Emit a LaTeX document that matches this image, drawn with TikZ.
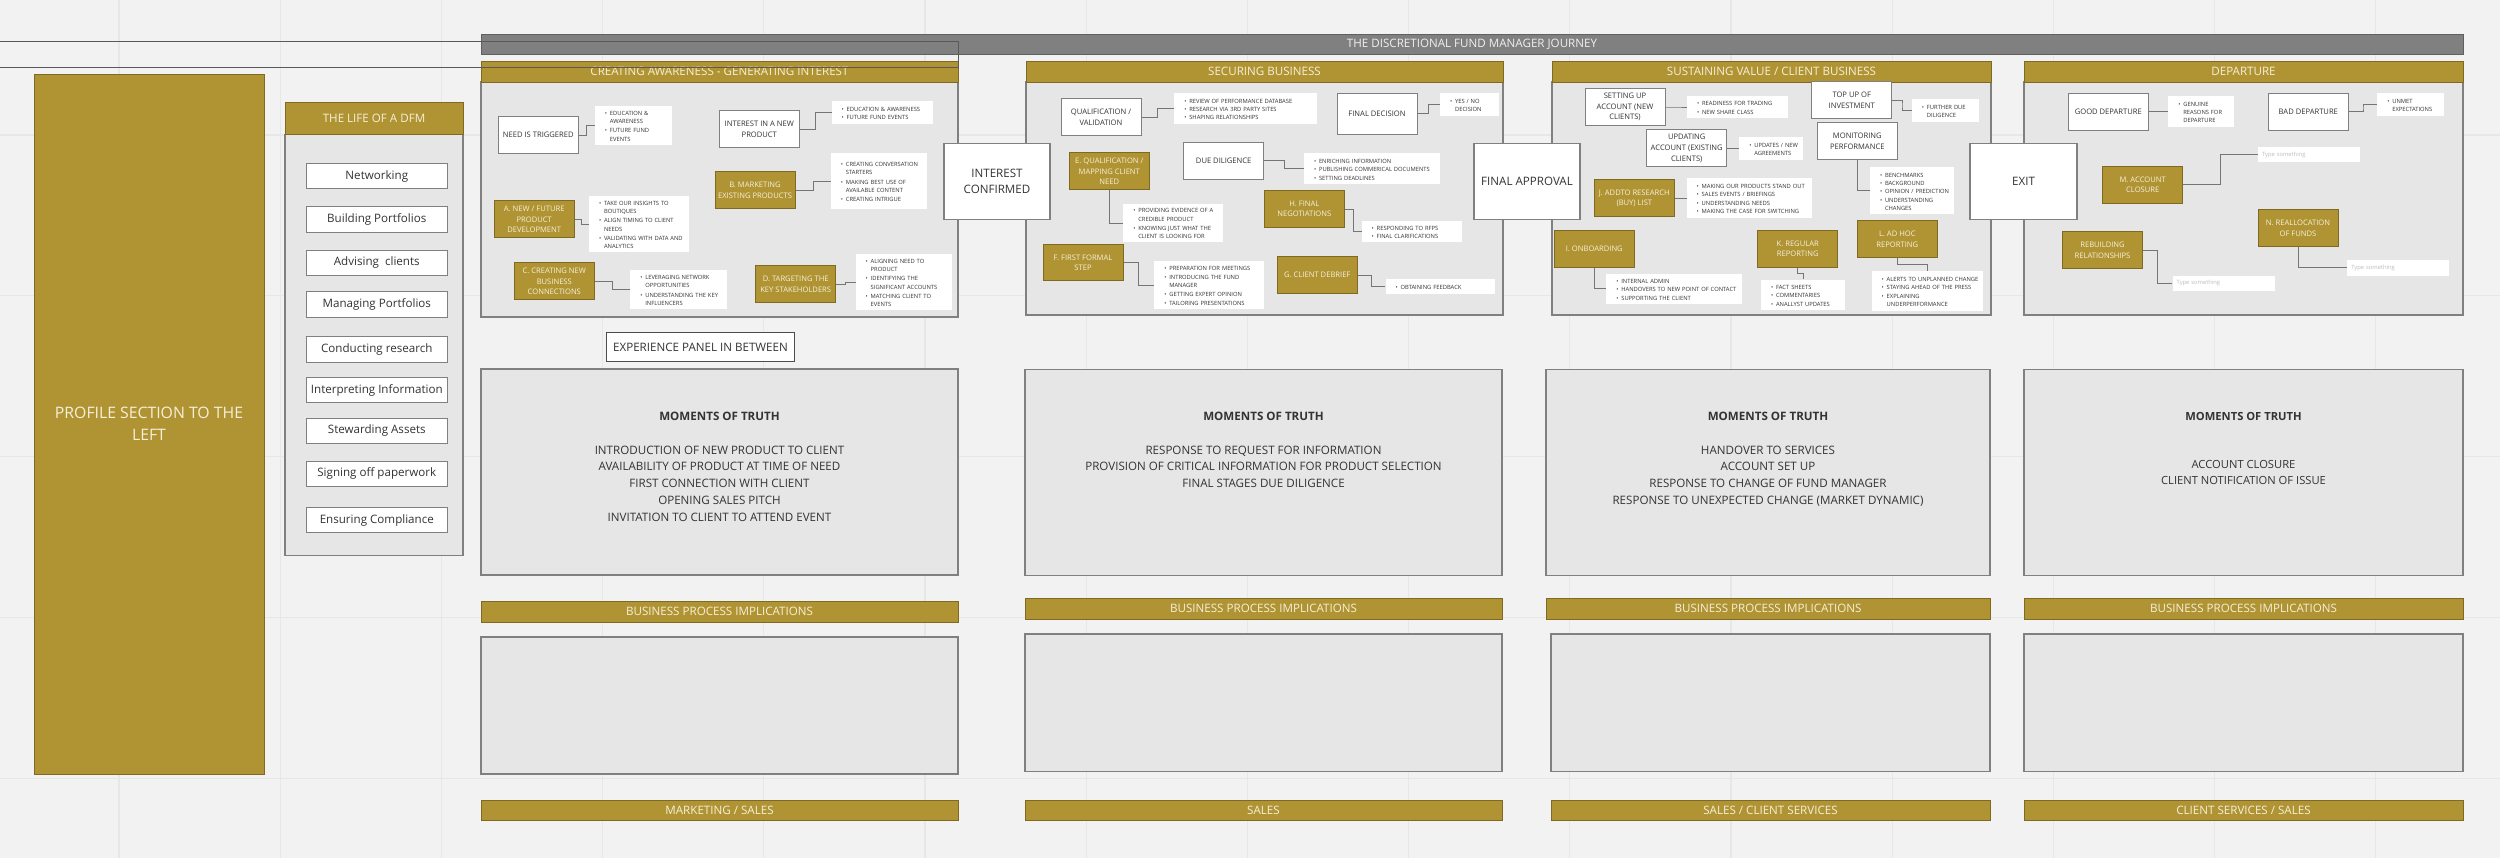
\documentclass[tikz,border=0pt]{standalone}
\usepackage{fontspec}
\setmainfont{Open Sans}
\usetikzlibrary{positioning,calc}
\definecolor{canvas}{HTML}{F2F2F2}
\definecolor{gridline}{HTML}{E7E7E7}
\definecolor{gold}{HTML}{B09433}
\definecolor{golddark}{HTML}{7E6A22}
\definecolor{cream}{HTML}{F6EFDA}
\definecolor{panelfill}{HTML}{E6E6E6}
\definecolor{edge}{HTML}{808080}
\definecolor{ink}{HTML}{333333}
\definecolor{wire}{HTML}{757575}
\definecolor{ghost}{HTML}{BDBDBD}
\definecolor{journey}{HTML}{808080}
\newcommand{\itm}[1]{\par\noindent\hbox to 5pt{\textbullet\hss}\begin{tabular}[t]{@{}l@{}}#1\end{tabular}}
\tikzset{bar/.style={draw=golddark,fill=gold,text=cream,line width=0.8pt,inner sep=0pt,font=\fontsize{11.6}{14}\selectfont},
         panel/.style={draw=edge,fill=panelfill,line width=1.2pt,inner sep=0pt},
         gate/.style={draw=edge,fill=white,text=ink,line width=1.2pt,minimum width=106pt,minimum height=76pt,align=center,font=\fontsize{11.6}{16}\selectfont},
         stepbox/.style={draw=edge,fill=white,text=ink,line width=1pt,minimum width=80pt,minimum height=37pt,inner sep=1pt,align=center,font=\fontsize{7.6}{10.6}\selectfont},
         goldbox/.style={stepbox,draw=golddark,fill=gold,text=cream},
         note/.style 2 args={fill=white,text=ink,align=left,inner xsep=10pt,inner ysep=0pt,text width=#1,minimum height=#2,font=\fontsize{5.8}{8.3}\selectfont},
         hint/.style 2 args={fill=white,text=ghost,align=left,inner xsep=4pt,inner ysep=0pt,text width=#1,minimum height=#2,font=\fontsize{5.8}{8.3}\selectfont},
         lifeitem/.style={draw=edge,fill=white,text=ink,line width=0.8pt,minimum width=141.7pt,minimum height=25.5pt,inner sep=0pt,font=\fontsize{11.6}{14}\selectfont},
         truth/.style={text=ink,align=center,inner sep=0pt,font=\fontsize{11.6}{16.7}\selectfont},
         link/.style={draw=wire,line width=0.9pt},
         elbow/.style={to path={-| ($(\tikztostart)!0.5!(\tikztotarget)$) |- (\tikztotarget)}},
         drop/.style={to path={|- ($(\tikztostart)!0.5!(\tikztotarget)$) -| (\tikztotarget)}}
}
\begin{document}
\begin{tikzpicture}[x=1pt,y=-1pt]

\useasboundingbox (0,0) rectangle (2500,858);
\fill[canvas] (0,0) rectangle (2500,858);
\foreach \gx in {0,...,14} \draw[gridline,line width=1.2pt] ({119+161.2*\gx},0) -- ++(0,858);
\foreach \gy in {0,...,4} \draw[gridline,line width=1.2pt] (0,{135+160.8*\gy}) -- ++(2500,0);

\node[bar,minimum width=230pt,minimum height=700pt,align=center,font=\fontsize{15.8}{22.3}\selectfont] (profile) at (149,424) {PROFILE SECTION TO THE\\LEFT};
\node[panel,minimum width=178pt,minimum height=420.6pt] (lifebody) at (374,345) {};
\node[bar,minimum width=178pt,minimum height=32pt] (lifehead) at (374,118.7) {THE LIFE OF A DFM};
\node[lifeitem] (networking) at (376.8,176) {Networking};
\node[lifeitem] (building) at (376.8,219.3) {Building Portfolios};
\node[lifeitem] (advising) at (376.8,262.7) {Advising~ clients};
\node[lifeitem] (managing) at (376.8,304.3) {Managing Portfolios};
\node[lifeitem] (research) at (376.8,349.3) {Conducting research};
\node[lifeitem] (interpreting) at (376.8,390) {Interpreting Information};
\node[lifeitem] (stewarding) at (376.8,430.7) {Stewarding Assets};
\node[lifeitem] (signing) at (376.8,473.7) {Signing off paperwork};
\node[lifeitem] (compliance) at (376.8,520) {Ensuring Compliance};

\node[draw=journey!75!black,fill=journey,text=white!94!black,line width=0.8pt,minimum width=1982pt,minimum height=20pt,inner sep=0pt,font=\fontsize{11.6}{14}\selectfont] (journeyhead) at (1472,44) {THE DISCRETIONAL FUND MANAGER JOURNEY};

\node[panel,minimum width=477pt,minimum height=235pt] (awarebody) at (719.5,199.5) {};
\node[bar,minimum width=477pt,minimum height=21pt] (awarehead) at (719.5,71.5) {CREATING AWARENESS - GENERATING INTEREST};
\node[panel,minimum width=477pt,minimum height=233pt] (securebody) at (1264.5,198.5) {};
\node[bar,minimum width=477pt,minimum height=21pt] (securehead) at (1264.5,71.5) {SECURING BUSINESS};
\node[panel,minimum width=439pt,minimum height=233pt] (sustainbody) at (1771.5,198.5) {};
\node[bar,minimum width=439pt,minimum height=21pt] (sustainhead) at (1771.5,71.5) {SUSTAINING VALUE / CLIENT BUSINESS};
\node[panel,minimum width=439pt,minimum height=233pt] (departbody) at (2243.5,198.5) {};
\node[bar,minimum width=439pt,minimum height=21pt] (departhead) at (2243.5,71.5) {DEPARTURE};

\node[gate] (confirmed) at (997,181.5) {INTEREST\\CONFIRMED};
\node[gate] (approval) at (1527,181.5) {FINAL APPROVAL};
\node[gate,minimum width=107pt] (exit) at (2023.5,181.5) {EXIT};

\node[stepbox] (need) at (538.3,135) {NEED IS TRIGGERED};
\node[stepbox] (interest) at (759.3,129.2) {INTEREST IN A NEW\\PRODUCT};
\node[goldbox] (mktexist) at (755,190.5) {B. MARKETING\\EXISTING PRODUCTS};
\node[goldbox] (newprod) at (534.2,219.5) {A. NEW / FUTURE\\PRODUCT\\DEVELOPMENT};
\node[goldbox] (newconn) at (554.3,281.3) {C. CREATING NEW\\BUSINESS\\CONNECTIONS};
\node[goldbox] (keyholders) at (795.7,284.5) {D. TARGETING THE\\KEY STAKEHOLDERS};
\node[note={56.7pt}{39.3pt}] (needn) at (633.3,125.3) {\itm{EDUCATION \&\\AWARENESS}\itm{FUTURE FUND\\EVENTS}};
\node[note={81.6pt}{23.3pt}] (interestn) at (882.5,112.7) {\itm{EDUCATION \& AWARENESS}\itm{FUTURE FUND EVENTS}};
\node[note={75.7pt}{55.7pt}] (mktexistn) at (878.8,181.2) {\itm{CREATING CONVERSATION\\STARTERS}\itm{MAKING BEST USE OF\\AVAILABLE CONTENT}\itm{CREATING INTRIGUE}};
\node[note={80pt}{56.3pt}] (newprodn) at (639,224.2) {\itm{TAKE OUR INSIGHTS TO\\BOUTIQUES}\itm{ALIGN TIMING TO CLIENT\\NEEDS}\itm{VALIDATING WITH DATA AND\\ANALYTICS}};
\node[note={77pt}{39pt}] (newconnn) at (678.8,289.5) {\itm{LEVERAGING NETWORK\\OPPORTUNITIES}\itm{UNDERSTANDING THE KEY\\INFLUENCERS}};
\node[note={76pt}{55.7pt}] (keyholdersn) at (903.7,282.2) {\itm{ALIGNING NEED TO\\PRODUCT}\itm{IDENTIFYING THE\\SIGNIFICANT ACCOUNTS}\itm{MATCHING CLIENT TO\\EVENTS}};
\draw[link] (need.east) to[elbow] (needn.west);
\draw[link] (interest.east) to[elbow] (interestn.west);
\draw[link] (mktexist.east) to[elbow] (mktexistn.west);
\draw[link] (newprod.east) to[elbow] (newprodn.west);
\draw[link] (newconn.east) to[elbow] (newconnn.west);
\draw[link] (keyholders.east) to[elbow] (keyholdersn.west);

\node[stepbox] (qual) at (1101,117) {QUALIFICATION /\\VALIDATION};
\node[stepbox,minimum height=41pt] (decision) at (1377,113.8) {FINAL DECISION};
\node[goldbox] (mapneed) at (1109.3,171.5) {E. QUALIFICATION /\\MAPPING CLIENT\\NEED};
\node[stepbox] (diligence) at (1223.7,160.7) {DUE DILIGENCE};
\node[goldbox] (nego) at (1304.3,209) {H. FINAL\\NEGOTIATIONS};
\node[goldbox,minimum height=35.7pt] (formal) at (1083,262.8) {F. FIRST FORMAL\\STEP};
\node[goldbox] (debrief) at (1317.3,275.2) {G. CLIENT DEBRIEF};
\node[note={122.4pt}{30.7pt}] (qualn) at (1245.5,108.7) {\itm{REVIEW OF PERFORMANCE DATABASE}\itm{RESEARCH VIA 3RD PARTY SITES}\itm{SHAPING RELATIONSHIPS}};
\node[note={39.3pt}{22.7pt}] (decisionn) at (1469.7,104.7) {\itm{YES / NO\\DECISION}};
\node[note={80pt}{38.6pt}] (mapneedn) at (1173.3,223) {\itm{PROVIDING EVIDENCE OF A\\CREDIBLE PRODUCT}\itm{KNOWING JUST WHAT THE\\CLIENT IS LOOKING FOR}};
\node[note={116pt}{31pt}] (diligencen) at (1372,168.8) {\itm{ENRICHING INFORMATION}\itm{PUBLISHING COMMERICAL DOCUMENTS}\itm{SETTING DEADLINES}};
\node[note={80.6pt}{21.6pt}] (negon) at (1412,231.5) {\itm{RESPONDING TO RFPS}\itm{FINAL CLARIFICATIONS}};
\node[note={89.4pt}{48pt}] (formaln) at (1209,285) {\itm{PREPARATION FOR MEETINGS}\itm{INTRODUCING THE FUND\\MANAGER}\itm{GETTING EXPERT OPINION}\itm{TAILORING PRESENTATIONS}};
\node[note={89.3pt}{14.4pt}] (debriefn) at (1440.3,286.5) {\itm{OBTAINING FEEDBACK}};
\draw[link] (qual.east) to[elbow] (qualn.west);
\draw[link] (decision.east) to[elbow] (decisionn.west);
\draw[link] (mapneed.south) |- (mapneedn.west);
\draw[link] (diligence.east) to[elbow] (diligencen.west);
\draw[link] (nego.east) to[elbow] (negon.west);
\draw[link] (formal.east) to[elbow] (formaln.west);
\draw[link] (debrief.east) to[elbow] (debriefn.west);

\node[stepbox] (setup) at (1625,107) {SETTING UP\\ACCOUNT (NEW\\CLIENTS)};
\node[stepbox] (topup) at (1851.7,100.3) {TOP UP OF\\INVESTMENT};
\node[stepbox] (updating) at (1686.7,148.3) {UPDATING\\ACCOUNT (EXISTING\\CLIENTS)};
\node[stepbox] (monitor) at (1857.3,141) {MONITORING\\PERFORMANCE};
\node[goldbox] (buylist) at (1634.3,198.5) {J. ADDTO RESEARCH\\(BUY) LIST};
\node[goldbox] (onboard) at (1594.3,248.8) {I. ONBOARDING};
\node[goldbox] (regular) at (1797.7,248.8) {K. REGULAR\\REPORTING};
\node[goldbox] (adhoc) at (1897.3,239.2) {L. AD HOC\\REPORTING};
\node[note={81.3pt}{22.6pt}] (setupn) at (1737.7,107) {\itm{READINESS FOR TRADING}\itm{NEW SHARE CLASS}};
\node[note={46.7pt}{22.4pt}] (topupn) at (1945.3,110.5) {\itm{FURTHER DUE\\DILIGENCE}};
\node[note={43.4pt}{22.7pt}] (updatingn) at (1771,148.3) {\itm{UPDATES / NEW\\AGREEMENTS}};
\node[note={64pt}{47pt}] (monitorn) at (1912,190.8) {\itm{BENCHMARKS}\itm{BACKGROUND}\itm{OPINION / PREDICTION}\itm{UNDERSTANDING\\CHANGES}};
\node[note={105pt}{39.4pt}] (buylistn) at (1749.2,198) {\itm{MAKING OUR PRODUCTS STAND OUT}\itm{SALES EVENTS / BRIEFINGS}\itm{UNDERSTANDING NEEDS}\itm{MAKING THE CASE FOR SWITCHING}};
\node[note={116pt}{30.3pt}] (onboardn) at (1674.3,288.8) {\itm{INTERNAL ADMIN}\itm{HANDOVERS TO NEW POINT OF CONTACT}\itm{SUPPORTING THE CLIENT}};
\node[note={64pt}{30.6pt}] (regularn) at (1803,295) {\itm{FACT SHEETS}\itm{COMMENTARIES}\itm{ANALLYST UPDATES}};
\node[note={91.6pt}{39.4pt}] (adhocn) at (1927.5,291) {\itm{ALERTS TO UNPLANNED CHANGE}\itm{STAYING AHEAD OF THE PRESS}\itm{EXPLAINING\\UNDERPERFORMANCE}};
\draw[link] (setup.east) to[elbow] (setupn.west);
\draw[link] (topup.east) to[elbow] (topupn.west);
\draw[link] (updating.east) to[elbow] (updatingn.west);
\draw[link] (monitor.south) |- (monitorn.west);
\draw[link] (buylist.east) to[elbow] (buylistn.west);
\draw[link] (onboard.south) |- (onboardn.west);
\draw[link] (regular.south) to[drop] (regularn.north);
\draw[link] (adhoc.south) to[drop] (adhocn.north);

\node[stepbox] (gooddep) at (2108.3,111.7) {GOOD DEPARTURE};
\node[stepbox] (baddep) at (2308.3,111.7) {BAD DEPARTURE};
\node[goldbox] (closure) at (2142.7,184.7) {M. ACCOUNT\\CLOSURE};
\node[goldbox] (realloc) at (2298,228.3) {N. REALLOCATION\\OF FUNDS};
\node[goldbox] (rebuild) at (2102.5,250.2) {REBUILDING\\RELATIONSHIPS};
\node[note={46pt}{31.3pt}] (gooddepn) at (2201.3,111.7) {\itm{GENUINE\\REASONS FOR\\DEPARTURE}};
\node[note={46.7pt}{22.4pt}] (baddepn) at (2410.7,104.5) {\itm{UNMET\\EXPECTATIONS}};
\node[hint={94pt}{14.4pt}] (closuren) at (2309,154.5) {Type something};
\node[hint={93.7pt}{15.7pt}] (reallocn) at (2398.2,267.8) {Type something};
\node[hint={94.3pt}{15.3pt}] (rebuildn) at (2223.8,283.3) {Type something};
\draw[link] (gooddep.east) to[elbow] (gooddepn.west);
\draw[link] (baddep.east) to[elbow] (baddepn.west);
\draw[link] (closure.east) to[elbow] (closuren.west);
\draw[link] (realloc.south) |- (reallocn.west);
\draw[link] (rebuild.east) to[elbow] (rebuildn.west);

\node[draw=black!70,fill=white,text=ink,line width=1pt,minimum width=188pt,minimum height=29pt,inner sep=0pt,font=\fontsize{11.6}{14}\selectfont] (experience) at (700.5,347) {EXPERIENCE PANEL IN BETWEEN};

\node[panel,minimum width=477pt,minimum height=206pt] (awaremot) at (719.5,472) {};
\node[truth,anchor=north] (awaretruth) at (719.5,412.2) {\textbf{MOMENTS OF TRUTH}\\[16.7pt]INTRODUCTION OF NEW PRODUCT TO CLIENT\\AVAILABILITY OF PRODUCT AT TIME OF NEED\\FIRST CONNECTION WITH CLIENT\\OPENING SALES PITCH\\INVITATION TO CLIENT TO ATTEND EVENT};
\node[panel,minimum width=477pt,minimum height=206pt] (securemot) at (1263.5,472.5) {};
\node[truth,anchor=north] (securetruth) at (1263.5,412.2) {\textbf{MOMENTS OF TRUTH}\\[16.7pt]RESPONSE TO REQUEST FOR INFORMATION\\PROVISION OF CRITICAL INFORMATION FOR PRODUCT SELECTION\\FINAL STAGES DUE DILIGENCE};
\node[panel,minimum width=444pt,minimum height=206pt] (sustainmot) at (1768,472.5) {};
\node[truth,anchor=north] (sustaintruth) at (1768,412.2) {\textbf{MOMENTS OF TRUTH}\\[16.7pt]HANDOVER TO SERVICES\\ACCOUNT SET UP\\RESPONSE TO CHANGE OF FUND MANAGER\\RESPONSE TO UNEXPECTED CHANGE (MARKET DYNAMIC)};
\node[panel,minimum width=439pt,minimum height=206pt] (departmot) at (2243.5,472.5) {};
\node[truth,anchor=north,font=\fontsize{11.2}{15.5}\selectfont] (departtruth) at (2243.5,412.4) {\textbf{MOMENTS OF TRUTH}\\[32.7pt]ACCOUNT CLOSURE\\CLIENT NOTIFICATION OF ISSUE};

\node[bar,minimum width=477pt,minimum height=21pt] (awareimpl) at (719.5,611.5) {BUSINESS PROCESS IMPLICATIONS};
\node[bar,minimum width=477pt,minimum height=21pt] (secureimpl) at (1263.5,608.8) {BUSINESS PROCESS IMPLICATIONS};
\node[bar,minimum width=444pt,minimum height=21pt] (sustainimpl) at (1768,608.8) {BUSINESS PROCESS IMPLICATIONS};
\node[bar,minimum width=439pt,minimum height=21pt] (departimpl) at (2243.5,608.8) {BUSINESS PROCESS IMPLICATIONS};

\node[panel,minimum width=477pt,minimum height=137pt] (awarenotes) at (719.5,705.5) {};
\node[panel,minimum width=477pt,minimum height=137.4pt] (securenotes) at (1263.5,702.7) {};
\node[panel,minimum width=439pt,minimum height=137.4pt] (sustainnotes) at (1770.5,702.7) {};
\node[panel,minimum width=439pt,minimum height=137.4pt] (departnotes) at (2243.5,702.7) {};

\node[bar,minimum width=477pt,minimum height=20.6pt] (awarerole) at (719.5,810.2) {MARKETING / SALES};
\node[bar,minimum width=477pt,minimum height=20.6pt] (securerole) at (1263.5,810.2) {SALES};
\node[bar,minimum width=439pt,minimum height=20.6pt] (sustainrole) at (1770.5,810.2) {SALES / CLIENT SERVICES};
\node[bar,minimum width=439pt,minimum height=20.6pt] (departrole) at (2243.5,810.2) {CLIENT SERVICES / SALES};

\draw[draw=black!65,line width=0.9pt] (-2,41) rectangle (958,67);

\end{tikzpicture}
\end{document}
